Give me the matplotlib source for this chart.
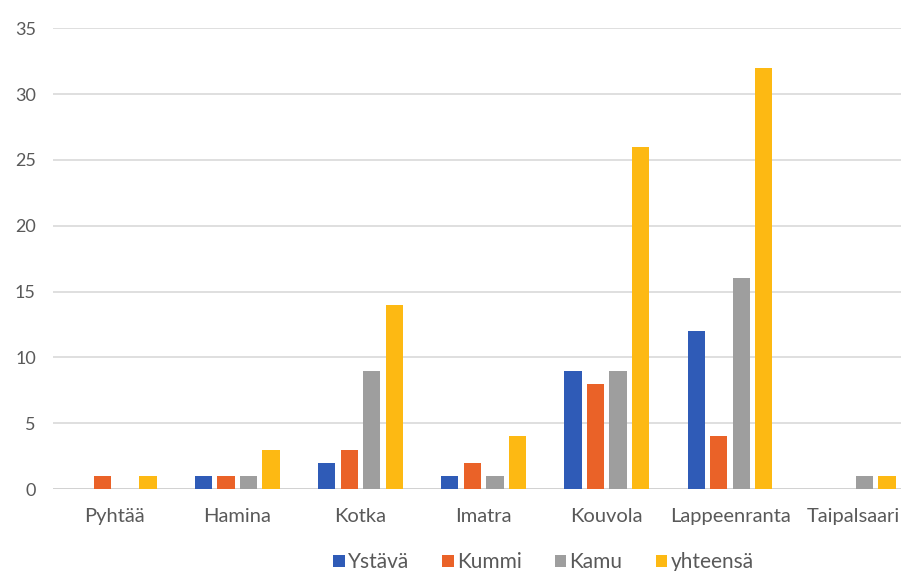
import numpy as np
import matplotlib
matplotlib.use("Agg")
import matplotlib.pyplot as plt

cities = ["Pyhtää", "Hamina", "Kotka", "Imatra", "Kouvola", "Lappeenranta", "Taipalsaari"]
series_names = ["Ystävä", "Kummi", "Kamu", "yhteensä"]
ystava = [0, 1, 2, 1, 9, 12, 0]
kummi = [1, 1, 3, 2, 8, 4, 0]
kamu = [0, 1, 9, 1, 9, 16, 1]
yhteensa = [1, 3, 14, 4, 26, 32, 1]
yticks = [0, 5, 10, 15, 20, 25, 30, 35]

colors = ["#2F5BB7", "#EA6228", "#9E9E9E", "#FDB913"]
text_color = "#595959"

plt.rcParams["font.family"] = ["Lato", "DejaVu Sans"]

fig = plt.figure(figsize=(9.01, 5.71), dpi=100)
ax = fig.add_axes([0.0583, 0.1436, 0.957, 0.807])

x = np.arange(len(cities))
width = 0.14
step = 0.183
for i, (name, vals) in enumerate(zip(series_names, [ystava, kummi, kamu, yhteensa])):
    ax.bar(x + (i - 1.5) * step, vals, width, color=colors[i], label=name, zorder=3)

ax.set_xlim(-0.5, len(cities) - 0.5)
ax.set_ylim(0, 35)
ax.set_yticks(yticks)
ax.yaxis.grid(True, color="#D9D9D9", linewidth=1.2, zorder=0)
ax.set_axisbelow(True)
for s in ax.spines.values():
    s.set_visible(False)
ax.axhline(0, color="#D0D0D0", linewidth=1.2, zorder=2)
ax.tick_params(axis="both", length=0, colors=text_color)
ax.tick_params(axis="y", pad=12, labelsize=13)
ax.tick_params(axis="x", pad=14, labelsize=14.5)
ax.set_xticks(x)
ax.set_xticklabels(cities)

fig.legend(loc="lower center", bbox_to_anchor=(0.603, -0.024), ncol=4, frameon=False,
           fontsize=15, handlelength=0.55, handleheight=0.55, handletextpad=0.15,
           columnspacing=1.6, labelcolor=text_color, borderpad=0.1)

fig.savefig("out.png", dpi=100)
